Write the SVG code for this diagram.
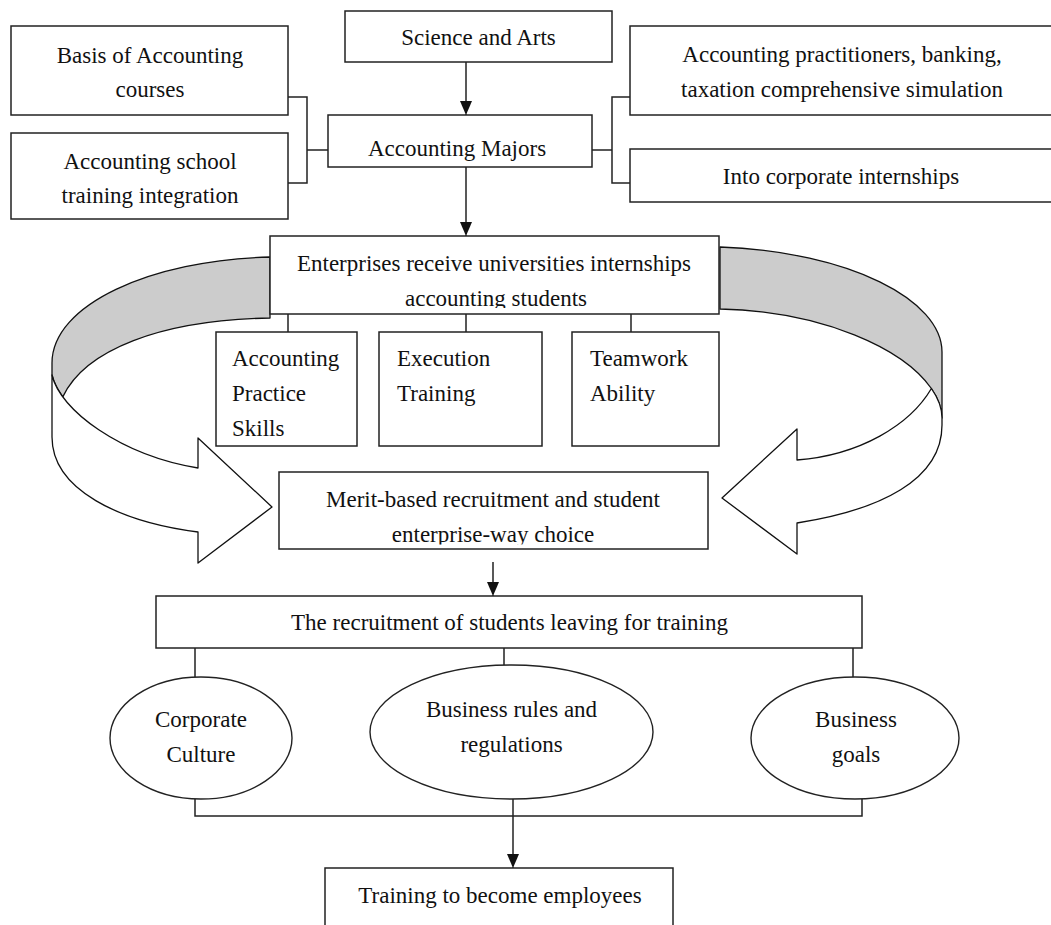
<svg xmlns="http://www.w3.org/2000/svg" width="1051" height="925" viewBox="0 0 1051 925">
<style>
.box{fill:#fff;stroke:#222;stroke-width:1.5}
.ell{fill:#fff;stroke:#222;stroke-width:1.4}
.ln{fill:none;stroke:#222;stroke-width:1.5}
.ring{stroke:#111;stroke-width:1.3;stroke-linejoin:round}
.t{font-family:"Liberation Serif","Times New Roman",serif;font-size:23px;fill:#111}
.c{text-anchor:middle}
</style>
<defs>
<marker id="ah" markerUnits="userSpaceOnUse" viewBox="0 0 12 14" markerWidth="12" markerHeight="14" refX="14" refY="6" orient="auto">
<path d="M0,0 L14,6 L0,12 Z" fill="#111"/>
</marker>
<clipPath id="clipEnt"><rect x="270" y="236" width="449" height="72"/></clipPath>
<clipPath id="clipMerit"><rect x="279" y="472" width="429" height="72.5"/></clipPath>
</defs>
<rect width="1051" height="925" fill="#fff"/>

<g id="ring-back">
<path class="ring" fill="#cccccc" d="M720,247 C850,252 942,300 942,352 L942,418 C942,408.4 938.3,398.4 931.4,388.5 C903.7,349 824,311.4 720,309 Z"/>
<path class="ring" fill="#cccccc" d="M270,257 C150,260 52,305 52,363 L52,375 C53.6,382 57.28,389.4 62.77,396.86 C85,350 160,320 270,318 Z"/>
</g>
<g id="ring-front">
<path class="ring" fill="#fff" d="M931.4,388.5 C910,425 860,455 797,460 L797,429 L722,498 L797,554 L797,523 C880,510 942,480 942,425 L942,418 C942,408.4 938.3,398.4 931.4,388.5 Z"/>
<path class="ring" fill="#fff" d="M52,375 C60,410 120,455 198,468 L198,438 L272,507 L198,563 L198,532 C120,522 52,490 52,437 Z"/>
</g>

<g id="connectors">
<path class="ln" d="M288,97 H307 V183 H288 M307,150 H328"/>
<path class="ln" d="M630,97 H612 V183 H630 M592,150 H612"/>
<line class="ln" x1="466" y1="62" x2="466" y2="115" marker-end="url(#ah)"/>
<line class="ln" x1="466" y1="167" x2="466" y2="236" marker-end="url(#ah)"/>
<path class="ln" d="M288,314 V332 M466,314 V332 M631,314 V332"/>
<line class="ln" x1="493" y1="562" x2="493" y2="596" marker-end="url(#ah)"/>
<path class="ln" d="M195,648 V677 M504,648 V665 M853,648 V677"/>
<path class="ln" d="M195,799 V816 H862 V799"/>
<line class="ln" x1="513" y1="799" x2="513" y2="868" marker-end="url(#ah)"/>
</g>

<g id="science">
<rect class="box" x="345" y="11" width="267" height="51"/>
<text class="t c" x="478.5" y="45">Science and Arts</text>
</g>
<g id="basis">
<rect class="box" x="11" y="26" width="277" height="89"/>
<text class="t c" x="150" y="63">Basis of Accounting</text>
<text class="t c" x="150" y="97">courses</text>
</g>
<g id="school">
<rect class="box" x="11" y="133" width="277" height="86"/>
<text class="t c" x="150" y="169">Accounting school</text>
<text class="t c" x="150" y="203">training integration</text>
</g>
<g id="majors">
<rect class="box" x="328" y="115" width="264" height="52"/>
<text class="t c" x="457" y="156">Accounting Majors</text>
</g>
<g id="practitioners">
<rect class="box" x="630" y="26" width="440" height="89"/>
<text class="t c" x="842" y="62">Accounting practitioners, banking,</text>
<text class="t c" x="842" y="97">taxation comprehensive simulation</text>
</g>
<g id="internships">
<rect class="box" x="630" y="149" width="440" height="53"/>
<text class="t c" x="841" y="184">Into corporate internships</text>
</g>
<g id="enterprises">
<rect class="box" x="270" y="236" width="449" height="78"/>
<g clip-path="url(#clipEnt)">
<text class="t c" x="494" y="271">Enterprises receive universities internships</text>
<text class="t c" x="496" y="306">accounting students</text>
</g>
</g>
<g id="practice">
<rect class="box" x="216" y="332" width="141" height="114"/>
<text class="t" x="232" y="366">Accounting</text>
<text class="t" x="232" y="401">Practice</text>
<text class="t" x="232" y="436">Skills</text>
</g>
<g id="execution">
<rect class="box" x="379" y="332" width="163" height="114"/>
<text class="t" x="397" y="366">Execution</text>
<text class="t" x="397" y="401">Training</text>
</g>
<g id="teamwork">
<rect class="box" x="572" y="332" width="147" height="114"/>
<text class="t" x="590" y="366">Teamwork</text>
<text class="t" x="590" y="401">Ability</text>
</g>
<g id="merit">
<rect class="box" x="279" y="472" width="429" height="77"/>
<g clip-path="url(#clipMerit)">
<text class="t c" x="493" y="507">Merit-based recruitment and student</text>
<text class="t c" x="493" y="542">enterprise-way choice</text>
</g>
</g>
<g id="recruitment">
<rect class="box" x="156" y="596" width="706" height="52"/>
<text class="t c" x="509.5" y="630">The recruitment of students leaving for training</text>
</g>
<g id="culture">
<ellipse class="ell" cx="201" cy="738" rx="91" ry="61"/>
<text class="t c" x="201" y="727">Corporate</text>
<text class="t c" x="201" y="762">Culture</text>
</g>
<g id="rules">
<ellipse class="ell" cx="511.5" cy="732" rx="141.5" ry="67"/>
<text class="t c" x="511.5" y="717">Business rules and</text>
<text class="t c" x="511.5" y="752">regulations</text>
</g>
<g id="goals">
<ellipse class="ell" cx="855" cy="738" rx="104" ry="61"/>
<text class="t c" x="856" y="727">Business</text>
<text class="t c" x="856" y="762">goals</text>
</g>
<g id="training">
<rect class="box" x="325" y="868" width="348" height="80"/>
<text class="t c" x="500" y="903">Training to become employees</text>
</g>
</svg>
